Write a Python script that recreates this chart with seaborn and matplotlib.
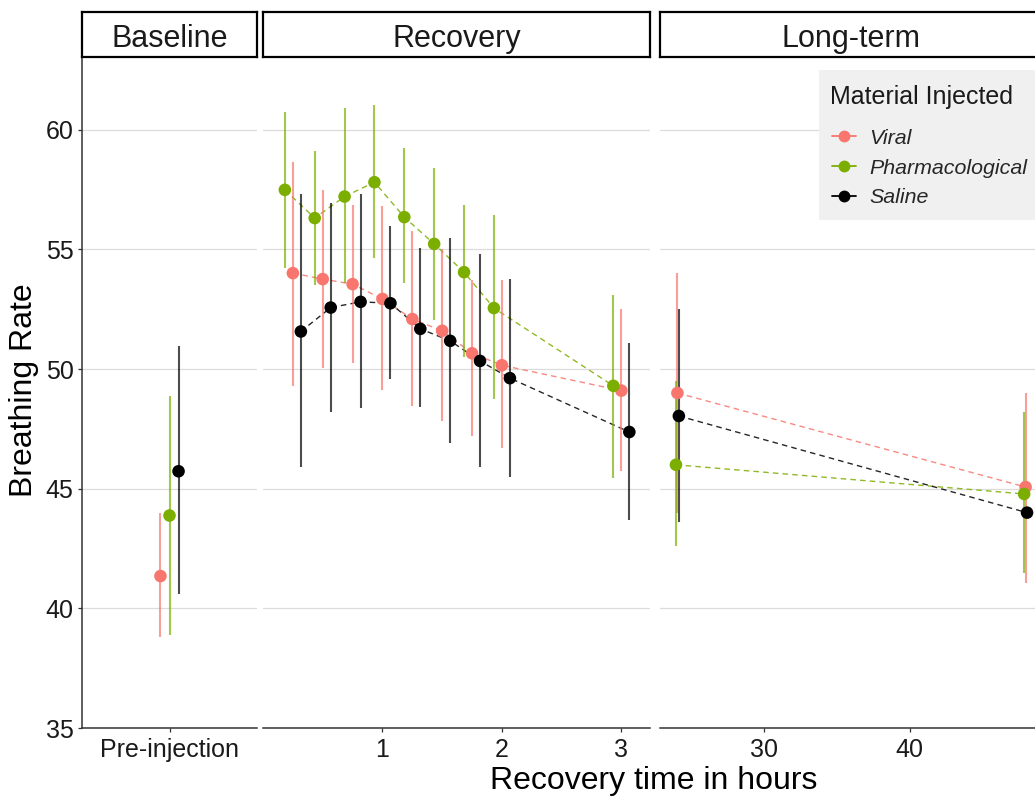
import matplotlib
matplotlib.use("Agg")
import numpy as np
import pandas as pd
import seaborn as sns
import matplotlib.pyplot as plt
from matplotlib.lines import Line2D
from matplotlib.patches import Rectangle

sns.set_theme(style="white")
plt.rcParams["font.family"] = ["Liberation Sans", "DejaVu Sans"]

# ---- data ---------------------------------------------------------------
groups = ["Viral", "Pharmacological", "Saline"]
group_colors = ["#F8766D", "#7CAE00", "#000000"]

phases = ["Baseline", "Recovery", "Long-term"]

baseline_time = [1]
baseline_label = ["Pre-injection"]
viral_base = [41.35]
viral_base_lo = [38.82]
viral_base_hi = [43.98]
pharm_base = [43.88]
pharm_base_lo = [38.87]
pharm_base_hi = [48.89]
saline_base = [45.73]
saline_base_lo = [40.60]
saline_base_hi = [50.98]

recovery_hours = [0.25, 0.5, 0.75, 1.0, 1.25, 1.5, 1.75, 2.0, 3.0]
viral_rec = [54.01, 53.76, 53.55, 52.93, 52.09, 51.60, 50.66, 50.16, 49.10]
viral_rec_lo = [49.31, 50.04, 50.27, 49.13, 48.46, 47.83, 47.22, 46.72, 45.72]
viral_rec_hi = [58.67, 57.49, 56.86, 56.82, 55.75, 55.01, 53.73, 53.73, 52.50]
pharm_rec = [57.49, 56.31, 57.21, 57.81, 56.35, 55.23, 54.05, 52.55, 49.30]
pharm_rec_lo = [54.24, 53.52, 53.59, 54.63, 53.59, 52.06, 50.52, 48.74, 45.44]
pharm_rec_hi = [60.74, 59.12, 60.91, 61.05, 59.23, 58.40, 56.86, 56.42, 53.10]
saline_rec = [51.57, 52.57, 52.81, 52.75, 51.68, 51.18, 50.34, 49.62, 47.37]
saline_rec_lo = [45.92, 48.22, 48.36, 49.58, 48.41, 46.90, 45.89, 45.48, 43.70]
saline_rec_hi = [57.31, 56.96, 57.31, 55.96, 55.08, 55.47, 54.80, 53.77, 51.08]

longterm_hours = [24, 48]
viral_lt = [49.00, 45.07]
viral_lt_lo = [44.00, 41.05]
viral_lt_hi = [54.00, 49.00]
pharm_lt = [46.00, 44.78]
pharm_lt_lo = [42.60, 41.47]
pharm_lt_hi = [49.50, 48.22]
saline_lt = [48.04, 44.00]
saline_lt_lo = [43.60, np.nan]
saline_lt_hi = [52.52, np.nan]

series = {
    "Baseline": (baseline_time, [
        (viral_base, viral_base_lo, viral_base_hi),
        (pharm_base, pharm_base_lo, pharm_base_hi),
        (saline_base, saline_base_lo, saline_base_hi)]),
    "Recovery": (recovery_hours, [
        (viral_rec, viral_rec_lo, viral_rec_hi),
        (pharm_rec, pharm_rec_lo, pharm_rec_hi),
        (saline_rec, saline_rec_lo, saline_rec_hi)]),
    "Long-term": (longterm_hours, [
        (viral_lt, viral_lt_lo, viral_lt_hi),
        (pharm_lt, pharm_lt_lo, pharm_lt_hi),
        (saline_lt, saline_lt_lo, saline_lt_hi)]),
}

rows = []
for phase, (times, per_group) in series.items():
    for g, (m, lo, hi) in zip(groups, per_group):
        for t, mv, l, h in zip(times, m, lo, hi):
            rows.append(dict(phase=phase, group=g, t=t, mean=mv, lo=l, hi=h))
df = pd.DataFrame(rows)

palette = dict(zip(groups, group_colors))

# ---- layout (pixel geometry of a 1035 x 798 canvas) ---------------------
W, H = 1035, 798
fig = plt.figure(figsize=(W / 100, H / 100), dpi=100, facecolor="white")

panel_top, panel_bottom = 58, 728
strip_top = 12
# x-range in pixels, axis limits, dodge step and dodge order per facet
panels = {
    "Baseline": (82, 257, (0.4, 1.6), 0.062,
                 {"Viral": -1, "Pharmacological": 0, "Saline": 1}),
    "Recovery": (263, 650, (0.0, 3.24), 0.067,
                 {"Viral": 0, "Pharmacological": -1, "Saline": 1}),
    "Long-term": (660, 1043, (22.8, 49.2), 0.10,
                  {"Viral": 0, "Pharmacological": -1, "Saline": 1}),
}

def rect(x0, x1, ytop, ybot):
    return [x0 / W, 1 - ybot / H, (x1 - x0) / W, (ybot - ytop) / H]

axis_col = "#333333"
for phase in phases:
    x0, x1, xlim, step, shift = panels[phase]
    ax = fig.add_axes(rect(x0, x1, panel_top, panel_bottom))
    sub = df[df.phase == phase].copy()
    sub["xd"] = sub["t"] + sub["group"].map(shift) * step

    if sub["t"].nunique() > 1:
        sns.lineplot(data=sub, x="xd", y="mean", hue="group", hue_order=groups,
                     palette=palette, estimator=None, sort=True, legend=False,
                     ax=ax, linewidth=1.0, linestyle=(0, (4, 3)), alpha=0.85,
                     zorder=2)
    for g in groups:
        gs = sub[sub.group == g].dropna(subset=["lo", "hi"])
        ax.vlines(gs["xd"], gs["lo"], gs["hi"], color=palette[g],
                  linewidth=1.5, alpha=0.7, zorder=3)
    sns.scatterplot(data=sub, x="xd", y="mean", hue="group", hue_order=groups,
                    palette=palette, s=82, linewidth=0, legend=False, ax=ax,
                    zorder=4)

    ax.set_xlim(*xlim)
    ax.set_ylim(35, 63.0)
    ax.set_xlabel("")
    ax.set_ylabel("")
    ax.set_yticks([35, 40, 45, 50, 55, 60])
    ax.yaxis.grid(True, color="#DCDCDC", linewidth=0.9)
    ax.xaxis.grid(False)
    ax.set_axisbelow(True)
    ax.set_facecolor("white")
    for s in ["top", "right"]:
        ax.spines[s].set_visible(False)
    ax.spines["bottom"].set_color(axis_col)
    ax.spines["bottom"].set_linewidth(1.1)
    ax.tick_params(axis="x", length=3, width=0.9, color=axis_col, pad=4,
                   labelsize=18, labelcolor="#1a1a1a", bottom=True)

    if phase == "Baseline":
        ax.set_xticks(baseline_time)
        ax.set_xticklabels(baseline_label)
        ax.spines["left"].set_color(axis_col)
        ax.spines["left"].set_linewidth(1.1)
        ax.tick_params(axis="y", length=3, width=0.9, color=axis_col, pad=3,
                       labelsize=18, labelcolor="#1a1a1a", left=True)
    else:
        ax.spines["left"].set_visible(False)
        ax.tick_params(axis="y", left=False, labelleft=False)
        if phase == "Recovery":
            ax.set_xticks([1, 2, 3])
        else:
            ax.set_xticks([30, 40])

    # facet strip
    sax = fig.add_axes(rect(x0, x1, strip_top, panel_top - 1))
    sax.set_xticks([])
    sax.set_yticks([])
    sax.set_facecolor("white")
    for sp in sax.spines.values():
        sp.set_visible(True)
        sp.set_color("black")
        sp.set_linewidth(1.6)
    sax.text(0.5, 0.40, phase, ha="center", va="center", fontsize=22,
             color="#1a1a1a", transform=sax.transAxes)

fig.text(24 / W, 1 - 390 / H, "Breathing Rate", rotation=90, ha="center",
         va="center", fontsize=23, color="black")
fig.text(654 / W, 1 - 781 / H, "Recovery time in hours", ha="center",
         va="center", fontsize=23, color="black")

# legend: grey panel, title and keyed entries
fig.add_artist(Rectangle((819 / W, 1 - 220 / H), 240 / W, 150 / H,
                         transform=fig.transFigure, facecolor="#F0F0F0",
                         edgecolor="none", zorder=5))
fig.text(830 / W, 1 - 97 / H, "Material Injected", ha="left", va="center",
         fontsize=18, color="#1a1a1a", zorder=6)
handles = [Line2D([0], [0], color=c, marker="o", markersize=7.5, linewidth=1.3)
           for c in group_colors]
leg = fig.legend(handles, groups, loc="center left",
                 bbox_to_anchor=(832 / W, 1 - 168 / H), frameon=False,
                 prop={"style": "italic", "size": 15.4}, borderpad=0,
                 handlelength=1.12, handletextpad=0.62, labelspacing=0.5,
                 borderaxespad=0)
leg.set_zorder(6)

fig.savefig("out.png", dpi=100, facecolor="white")
